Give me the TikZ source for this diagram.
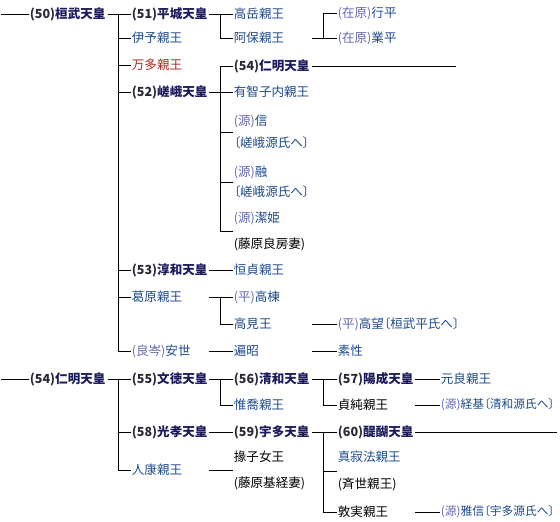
\documentclass[tikz,border=0pt]{standalone}
\usepackage{fontspec}
\setmainfont{Noto Sans CJK JP}[RawFeature={+palt}]
\usepackage{xcolor}
\usepackage{tikz}
\definecolor{kfnavy}{RGB}{26,26,92}
\definecolor{kfnum}{RGB}{40,40,55}
\definecolor{kfblue}{RGB}{30,74,140}
\definecolor{kfpale}{RGB}{100,104,175}
\definecolor{kfred}{RGB}{170,40,28}
\newcommand{\pfx}[1]{\textcolor{kfpale}{#1}}
\newcommand{\num}[1]{\textcolor{kfnum}{#1}}
\tikzset{
  person/.style={anchor=west, inner xsep=0.5pt, inner ysep=1pt, text=black, font=\fontsize{9.4}{11}\selectfont},
  emperor/.style={person, text=kfnavy, font=\fontsize{9.4}{11}\selectfont\bfseries},
  prince/.style={person, text=kfblue},
  redlink/.style={person, text=kfred},
  narrow/.style={font=\fontsize{8.8}{11}\selectfont},
  twoline/.style={person, align=left, font=\fontsize{9.4}{#1}\selectfont},
  twoline/.default=17pt,
  line/.style={line width=0.75pt, draw=black}
}

\begin{document}
\begin{tikzpicture}[x=0.75pt, y=-0.75pt]
\useasboundingbox (0,0) rectangle (560,521);
% column positions of the connectors
\coordinate (lead) at (1,0);
\coordinate (s1) at (108,0);
\coordinate (t1) at (118,0);
\coordinate (s2) at (209,0);
\coordinate (t2) at (220,0);
\coordinate (s3) at (312,0);
\coordinate (t3) at (323,0);
\coordinate (s4) at (415,0);
\coordinate (endA) at (456,0);
\coordinate (endB) at (557,0);

% generation 0
\node[emperor] (kanmu) at (29,14) {\num{(50)}桓武天皇};
\node[emperor] (ninmyoA) at (29,379) {\num{(54)}仁明天皇};

% generation 1
\node[emperor] (heizei) at (131,14) {\num{(51)}平城天皇};
\node[prince] (iyo) at (131,38) {伊予親王};
\node[redlink] (manta) at (131,65) {万多親王};
\node[emperor] (saga) at (131,92) {\num{(52)}嵯峨天皇};
\node[emperor] (junna) at (131,270) {\num{(53)}淳和天皇};
\node[prince] (kazurahara) at (131,297) {葛原親王};
\node[prince] (yasuyo) at (131,351) {\pfx{(良岑)}安世};
\node[emperor] (montoku) at (131,379) {\num{(55)}文徳天皇};
\node[emperor] (koko) at (131,432) {\num{(58)}光孝天皇};
\node[prince] (saneyasu) at (131,470) {人康親王};

% generation 2
\node[prince] (takaoka) at (233,14) {高岳親王};
\node[prince] (abo) at (233,38) {阿保親王};
\node[emperor] (ninmyoB) at (233,66) {\num{(54)}仁明天皇};
\node[prince] (uchiko) at (233,92) {有智子内親王};
\node[twoline=16.5pt, text=kfblue] (makoto) at (233,132) {\pfx{(源)}信\\〔嵯峨源氏へ〕};
\node[twoline=15.5pt, text=kfblue] (toru) at (233,182) {\pfx{(源)}融\\〔嵯峨源氏へ〕};
\node[twoline=19.5pt] (kiyohime) at (233,231) {\textcolor{kfblue}{\pfx{(源)}潔姫}\\(藤原良房妻)};
\node[prince] (tsunesada) at (233,270) {恒貞親王};
\node[prince] (takamune) at (233,297) {\pfx{(平)}高棟};
\node[prince] (takami) at (233,324) {高見王};
\node[prince] (henjo) at (233,351) {遍昭};
\node[emperor] (seiwa) at (233,379) {\num{(56)}清和天皇};
\node[prince] (koretaka) at (233,405) {惟喬親王};
\node[emperor] (uda) at (233,432) {\num{(59)}宇多天皇};
\node[twoline=19.5pt] (kanshi) at (233,470) {掾子女王\\(藤原基経妻)};

% generation 3
\node[prince] (yukihira) at (337,13) {\pfx{(在原)}行平};
\node[prince] (narihira) at (337,38) {\pfx{(在原)}業平};
\node[prince] (takamochi) at (337,324) {\pfx{(平)}高望〔桓武平氏へ〕};
\node[prince] (sosei) at (337,351) {素性};
\node[emperor] (yozei) at (337,379) {\num{(57)}陽成天皇};
\node[person] (sadazumi) at (337,405) {貞純親王};
\node[emperor] (daigo) at (337,432) {\num{(60)}醍醐天皇};
\node[twoline=20pt] (shinjaku) at (337,471) {\textcolor{kfblue}{真寂法親王}\\(斉世親王)};
\node[person] (atsumi) at (337,512) {敦実親王};

% generation 4
\node[prince] (motoyoshi) at (440,379) {元良親王};
\node[prince, narrow] (tsunemoto) at (440,405) {\pfx{(源)}経基〔清和源氏へ〕};
\node[prince, narrow] (masazane) at (440,512) {\pfx{(源)}雅信〔宇多源氏へ〕};

% connectors
\draw[line] (kanmu.west -| lead) -- (kanmu.west);
\draw[line] (ninmyoA.west -| lead) -- (ninmyoA.west);

\draw[line] (kanmu -| s1) -- (heizei.west);
\foreach \c in {iyo,manta,saga,junna,kazurahara,yasuyo}
  \draw[line] (kanmu -| t1) |- (\c.west);

\draw[line] (heizei -| s2) -- (takaoka.west);
\draw[line] (heizei -| t2) |- (abo.west);
\draw[line] (abo -| s3) -- (narihira.west);
\draw[line] (abo -| t3) |- (yukihira.west);

\draw[line] (saga -| s2) -- (uchiko.west);
\foreach \c in {ninmyoB,makoto,toru,kiyohime}
  \draw[line] (saga -| t2) |- (\c.west);
\draw[line] (ninmyoB -| s3) -- (ninmyoB -| endA);

\draw[line] (junna -| s2) -- (tsunesada.west);
\draw[line] (kazurahara -| s2) -- (takamune.west);
\draw[line] (kazurahara -| t2) |- (takami.west);
\draw[line] (takami -| s3) -- (takamochi.west);
\draw[line] (yasuyo -| s2) -- (henjo.west);
\draw[line] (henjo -| s3) -- (sosei.west);

\draw[line] (ninmyoA -| s1) -- (montoku.west);
\foreach \c in {koko,saneyasu}
  \draw[line] (ninmyoA -| t1) |- (\c.west);

\draw[line] (montoku -| s2) -- (seiwa.west);
\draw[line] (montoku -| t2) |- (koretaka.west);
\draw[line] (seiwa -| s3) -- (yozei.west);
\draw[line] (seiwa -| t3) |- (sadazumi.west);
\draw[line] (yozei -| s4) -- (motoyoshi.west);
\draw[line] (sadazumi -| s4) -- (tsunemoto.west);

\draw[line] (koko -| s2) -- (uda.west);
\draw[line] (saneyasu -| s2) -- (kanshi.west);
\draw[line] (uda -| s3) -- (daigo.west);
\foreach \c in {shinjaku,atsumi}
  \draw[line] (uda -| t3) |- (\c.west);
\draw[line] (daigo -| s4) -- (daigo -| endB);
\draw[line] (atsumi -| s4) -- (masazane.west);
\end{tikzpicture}
\end{document}
